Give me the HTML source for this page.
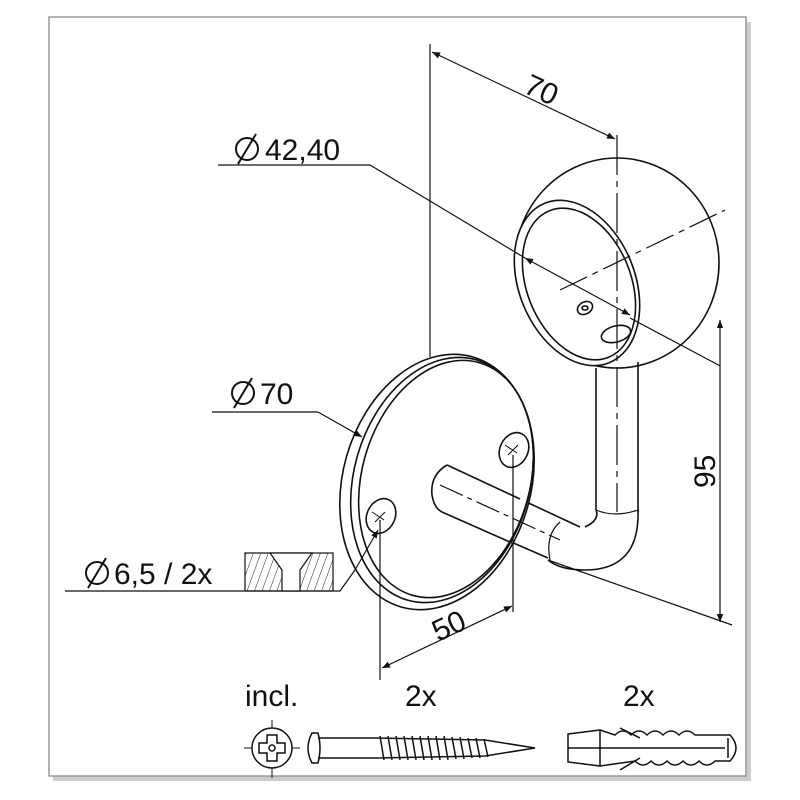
<!DOCTYPE html>
<html><head><style>
html,body{margin:0;padding:0;background:#fff;}
svg{display:block}
text{font-family:"Liberation Sans",sans-serif;fill:#111}
</style></head><body>
<svg width="800" height="800" viewBox="0 0 800 800" xmlns="http://www.w3.org/2000/svg">
<defs>
<marker id="a" viewBox="0 0 10 10" refX="10" refY="5" markerWidth="12" markerHeight="8" orient="auto-start-reverse" markerUnits="userSpaceOnUse"><path d="M0,1 L10,5 L0,9 z" fill="#111"/></marker>
<pattern id="h" width="7" height="7" patternUnits="userSpaceOnUse" patternTransform="rotate(20)"><line x1="0" y1="0" x2="0" y2="7" stroke="#222" stroke-width="1"/></pattern>
</defs>
<rect x="0" y="0" width="800" height="800" fill="#fff"/>
<rect x="53" y="22" width="698" height="759" fill="#ccc"/>
<rect x="49" y="17" width="697" height="759" fill="#fff" stroke="#999" stroke-width="1.5"/>

<g fill="none" stroke="#111" stroke-width="1.6">
<ellipse cx="617" cy="263" rx="102" ry="105"/>
<ellipse cx="577" cy="283" rx="58" ry="86" transform="rotate(-22 577 283)" fill="#fff"/>
<ellipse cx="579" cy="284" rx="52" ry="79" transform="rotate(-22 579 284)"/>
<ellipse cx="585" cy="308" rx="8" ry="6" transform="rotate(-30 585 308)"/>
<ellipse cx="585" cy="308" rx="3" ry="2"/>
<ellipse cx="616" cy="334" rx="15" ry="8" transform="rotate(-15 616 334)"/>
<path d="M596 368 L596 510 M638 362 L638 512" />
<path d="M638 510 Q640 570 585 570 Q560 570 548 560" />
<path d="M596 510 Q600 520 585 527" />
<path d="M596 510 Q615 518 638 510" stroke-width="1.2"/>
<path d="M447 465 L580 527 M442 512 L548 558" />
<path d="M560 522 Q545 535 550 560" stroke-width="1.2"/>
<ellipse cx="437" cy="482" rx="130" ry="94" transform="rotate(-74 437 482)" fill="#fff"/>
<ellipse cx="442" cy="480" rx="125" ry="88" transform="rotate(-74 442 480)"/>
<ellipse cx="446" cy="479" rx="121" ry="84" transform="rotate(-74 446 479)"/>
<path d="M447 465 L520 499 M442 512 L512 543" fill="none"/>
<path d="M447 465 Q430 475 432 495 Q434 508 442 512" fill="#fff"/>
<ellipse cx="514" cy="450" rx="14" ry="18" transform="rotate(25 514 450)" fill="#fff"/>
<ellipse cx="381" cy="516" rx="14" ry="18" transform="rotate(25 381 516)" fill="#fff"/>
<path d="M505 445 l12 8 M508 455 l10 -10 M372 512 l12 8 M375 522 l10 -10" stroke-width="1"/>
</g>

<g fill="none" stroke="#111" stroke-width="1.2">
<line x1="430" y1="44" x2="430" y2="357"/>
<line x1="617" y1="135" x2="617" y2="512" stroke-dasharray="40 6 6 6"/>
<line x1="432" y1="52" x2="615" y2="139" marker-start="url(#a)" marker-end="url(#a)"/>
<polyline points="218,165 370,165 525,258"/>
<line x1="525" y1="258" x2="630" y2="315" marker-start="url(#a)" marker-end="url(#a)"/>
<line x1="560" y1="290" x2="725" y2="210" stroke-dasharray="30 6 6 6"/>
<line x1="630" y1="318" x2="732" y2="318" transform="rotate(28 630 318)"/>
<line x1="548" y1="560" x2="732" y2="625"/>
<line x1="720" y1="320" x2="720" y2="622" marker-start="url(#a)" marker-end="url(#a)"/>
<polyline points="212,412 318,412"/>
<line x1="318" y1="412" x2="362" y2="437" marker-end="url(#a)"/>
<polyline points="65,591 340,591 355,570"/>
<line x1="355" y1="570" x2="378" y2="530" marker-end="url(#a)"/>
<line x1="380" y1="520" x2="380" y2="680"/>
<line x1="513" y1="455" x2="513" y2="612"/>
<line x1="382" y1="668" x2="512" y2="606" marker-start="url(#a)" marker-end="url(#a)"/>
<line x1="440" y1="485" x2="560" y2="540" stroke-dasharray="25 5 5 5"/>
</g>

<g stroke="#111" stroke-width="1.2">
<rect x="245" y="553" width="88" height="38" fill="url(#h)"/>
<path d="M270 553 L282 570 L282 591 L300 591 L300 570 L312 553 Z" fill="#fff"/>
</g>

<g fill="none" stroke="#111" stroke-width="2">
<circle cx="247" cy="149" r="11"/><line x1="238" y1="164" x2="256" y2="134"/>
<circle cx="243" cy="393" r="11"/><line x1="234" y1="408" x2="252" y2="378"/>
<circle cx="97" cy="573" r="11"/><line x1="88" y1="588" x2="106" y2="558"/>
</g>
<text x="265" y="160" font-size="30">42,40</text>
<text x="522" y="92" font-size="30" transform="rotate(25 522 92)">70</text>
<text x="260" y="404" font-size="30">70</text>
<text x="114" y="584" font-size="30">6,5 / 2x</text>
<text x="438" y="642" font-size="30" transform="rotate(-25 438 642)">50</text>
<text x="715" y="488" font-size="30" transform="rotate(-90 715 488)">95</text>
<text x="245" y="706" font-size="30">incl.</text>
<text x="405" y="706" font-size="30">2x</text>
<text x="623" y="706" font-size="30">2x</text>

<g fill="none" stroke="#111" stroke-width="1.5">
<circle cx="272" cy="748" r="20"/>
<path d="M267 735 h10 v8 h8 v10 h-8 v8 h-10 v-8 h-8 v-10 h8 z"/>
<circle cx="272" cy="748" r="3"/>
<path d="M244 748 h8 M292 748 h8 M272 720 v8 M272 768 v10" stroke-width="1"/>
<path d="M312 733 Q304 748 312 763 L318 763 Q322 748 318 733 Z"/>
<path d="M318 738 L375 738 M318 758 L375 758"/>
<path d="M375 738 L485 740 L535 748 L485 756 L375 758"/>
<path d="M380 736 l4 24 M388 736 l4 24 M396 736 l4 24 M404 736 l4 24 M412 736 l4 24 M420 736 l4 24 M428 736 l4 24 M436 736 l4 24 M444 736 l4 24 M452 737 l4 22 M460 737 l4 22 M468 738 l4 20 M476 738 l4 20 M484 739 l4 18"/>
<path d="M568 734 L600 730 L600 766 L568 762 Z"/>
<line x1="568" y1="748" x2="600" y2="748"/>
<path d="M600 730 L615 735 q8 -8 16 0 q8 -8 16 0 q8 -8 16 0 q8 -8 16 0 q8 -8 16 0 L730 735 q12 13 0 26 L715 761 q-8 8 -16 0 q-8 8 -16 0 q-8 8 -16 0 q-8 8 -16 0 q-8 8 -16 0 L600 766"/>
<line x1="600" y1="748" x2="725" y2="748"/>
<path d="M620 728 L640 738 M620 770 L640 758"/>
<line x1="728" y1="738" x2="728" y2="758"/>
</g>
</svg>
</body></html>
